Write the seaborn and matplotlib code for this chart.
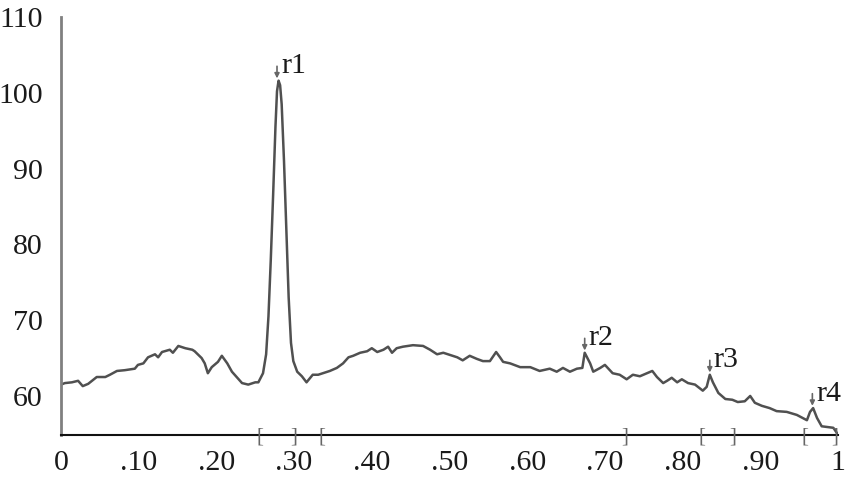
import matplotlib
matplotlib.use("Agg")

import matplotlib.pyplot as plt
import matplotlib.transforms as mtransforms
import numpy as np
import pandas as pd
import seaborn as sns

# ---------------------------------------------------------------------------
# Data
# ---------------------------------------------------------------------------
position = [
    0.000, 0.005, 0.014, 0.022, 0.028, 0.035, 0.046, 0.057, 0.063, 0.072,
    0.082, 0.095, 0.099, 0.106, 0.112, 0.121, 0.125, 0.130, 0.140, 0.144,
    0.151, 0.160, 0.169, 0.172, 0.181, 0.185, 0.189, 0.194, 0.202, 0.207,
    0.214, 0.220, 0.227, 0.233, 0.241, 0.250, 0.254, 0.260, 0.264, 0.267,
    0.270, 0.273, 0.276, 0.278, 0.280, 0.282, 0.284, 0.287, 0.290, 0.293,
    0.296, 0.299, 0.304, 0.310, 0.316, 0.324, 0.331, 0.337, 0.346, 0.355,
    0.363, 0.370, 0.376, 0.385, 0.394, 0.400, 0.407, 0.415, 0.421, 0.426,
    0.432, 0.440, 0.453, 0.466, 0.475, 0.484, 0.492, 0.501, 0.510, 0.517,
    0.526, 0.535, 0.543, 0.552, 0.560, 0.565, 0.569, 0.578, 0.591, 0.604,
    0.616, 0.629, 0.638, 0.646, 0.655, 0.664, 0.671, 0.674, 0.681, 0.685,
    0.694, 0.700, 0.710, 0.719, 0.728, 0.736, 0.745, 0.754, 0.761, 0.767,
    0.775, 0.780, 0.786, 0.793, 0.799, 0.807, 0.816, 0.826, 0.831, 0.835,
    0.839, 0.846, 0.855, 0.864, 0.871, 0.880, 0.887, 0.893, 0.902, 0.912,
    0.921, 0.934, 0.947, 0.960, 0.964, 0.968, 0.973, 0.979, 0.987, 0.994,
    1.000,
]
signal = [
    61.5, 61.7, 61.8, 62.0, 61.3, 61.6, 62.5, 62.5, 62.8, 63.3,
    63.4, 63.6, 64.1, 64.3, 65.1, 65.5, 65.1, 65.8, 66.1, 65.7,
    66.6, 66.3, 66.1, 65.9, 65.0, 64.3, 63.0, 63.8, 64.5, 65.3,
    64.3, 63.2, 62.4, 61.7, 61.5, 61.8, 61.8, 63.0, 65.5, 70.5,
    78.0, 86.5, 95.5, 100.2, 101.6, 101.0, 98.5, 91.0, 82.0, 73.0,
    67.0, 64.6, 63.2, 62.6, 61.8, 62.8, 62.8, 63.0, 63.3, 63.7,
    64.3, 65.1, 65.3, 65.7, 65.9, 66.3, 65.8, 66.1, 66.5, 65.7,
    66.3, 66.5, 66.7, 66.6, 66.1, 65.5, 65.7, 65.4, 65.1, 64.7,
    65.3, 64.9, 64.6, 64.6, 65.8, 65.1, 64.5, 64.3, 63.8, 63.8,
    63.3, 63.6, 63.2, 63.7, 63.2, 63.6, 63.7, 65.7, 64.3, 63.2,
    63.7, 64.1, 63.0, 62.8, 62.2, 62.8, 62.6, 63.0, 63.3, 62.5,
    61.7, 62.0, 62.4, 61.8, 62.2, 61.7, 61.5, 60.7, 61.2, 62.8,
    61.8, 60.4, 59.6, 59.5, 59.2, 59.3, 60.0, 59.1, 58.7, 58.4,
    58.0, 57.9, 57.5, 56.8, 57.9, 58.4, 57.1, 56.0, 55.9, 55.8,
    54.9,
]

peak_names = ["r1", "r2", "r3", "r4"]
peak_pos = [0.278, 0.674, 0.835, 0.967]

intervals = [(0.256, 0.299), (0.336, 0.725), (0.825, 0.865), (0.957, 0.996)]

x_ticks = [0, 0.1, 0.2, 0.3, 0.4, 0.5, 0.6, 0.7, 0.8, 0.9, 1.0]
x_labels = ["0", ".10", ".20", ".30", ".40", ".50", ".60", ".70", ".80", ".90", "1"]
x_minor = [0.1, 0.2, 0.4, 0.5, 0.6, 0.7, 0.8, 0.9]
y_ticks = [60, 70, 80, 90, 100, 110]

# ---------------------------------------------------------------------------
# Plot
# ---------------------------------------------------------------------------
sns.set_style("white")
plt.rcParams["font.family"] = ["Liberation Serif", "DejaVu Serif"]

df = pd.DataFrame({"position": position, "signal": signal})

fig = plt.figure(figsize=(8.5, 4.8), dpi=100)
ax = fig.add_axes([61 / 850, 1 - 435 / 480, 777 / 850, (435 - 17) / 480])

sns.lineplot(data=df, x="position", y="signal", ax=ax,
             color="#505050", linewidth=1.8)

ax.set_xlim(0, 1)
ax.set_ylim(54.85, 110)
ax.set_xlabel("")
ax.set_ylabel("")

ax.set_xticks(x_ticks)
ax.set_xticklabels(x_labels)
ax.set_xticks(x_minor, minor=True)
ax.set_yticks(y_ticks)

ax.tick_params(axis="x", which="major", length=0, pad=11, labelsize=21.5,
               labelcolor="#1a1a1a")
ax.tick_params(axis="x", which="minor", direction="in", length=5, width=1.2,
               color="#333333")
ax.tick_params(axis="y", direction="in", length=5, width=1.5, color="#808080",
               pad=13, labelsize=21.5, labelcolor="#1a1a1a")

sns.despine(ax=ax)
ax.spines["left"].set_color("#808080")
ax.spines["left"].set_linewidth(2)
ax.spines["bottom"].set_color("#111111")
ax.spines["bottom"].set_linewidth(1.5)

# bracket marks on the x axis
trans = mtransforms.blended_transform_factory(ax.transData, ax.transAxes)
for lo, hi in intervals:
    for xv, ch in ((lo, "["), (hi, "]")):
        ax.text(xv, -0.005, ch, transform=trans, ha="center", va="center",
                fontsize=15, color="#666666", clip_on=False)

# peak markers and labels (placed on the local maximum of the trace)
pos_arr = np.asarray(position)
sig_arr = np.asarray(signal)
for name, px in zip(peak_names, peak_pos):
    near = np.abs(pos_arr - px) <= 0.006
    pv = sig_arr[near].max()
    ax.annotate("", xy=(px, pv + 0.3), xytext=(px, pv + 1.9),
                arrowprops=dict(arrowstyle="-|>", color="#666666", lw=1.2,
                                mutation_scale=7, shrinkA=0, shrinkB=0))
    ax.text(px + 0.005, pv + 1.9, name, fontsize=21.5, color="#1a1a1a",
            ha="left", va="center")

fig.savefig("out.png", dpi=100)
plt.close(fig)
